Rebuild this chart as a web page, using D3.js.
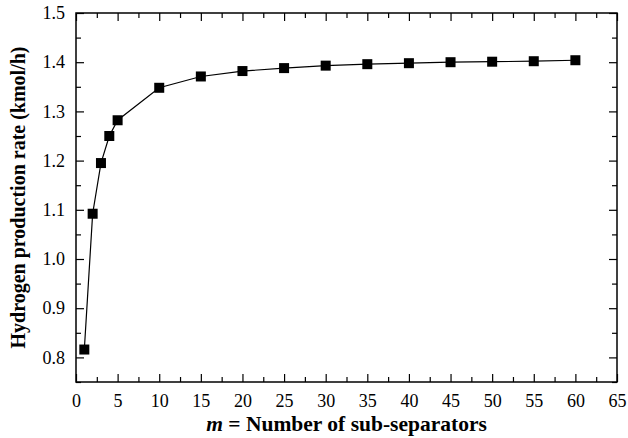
<!DOCTYPE html>
<html>
<head>
<meta charset="utf-8">
<script src="https://cdn.jsdelivr.net/npm/d3@7"></script>
<style>
  body { margin: 0; background: #fff; }
</style>
</head>
<body>
<svg id="svg" width="628" height="438"></svg>
<script>
// data
let mValues = [1, 2, 3, 4, 5, 10, 15, 20, 25, 30, 35, 40, 45, 50, 55, 60];
let h2Rates = [0.816, 1.092, 1.195, 1.250, 1.282, 1.348, 1.371, 1.382, 1.388, 1.393, 1.396, 1.398, 1.400, 1.401, 1.402, 1.404];
let xTicks = [0, 5, 10, 15, 20, 25, 30, 35, 40, 45, 50, 55, 60, 65];
let yTicks = [0.8, 0.9, 1.0, 1.1, 1.2, 1.3, 1.4, 1.5];

const serif = "'Liberation Serif', 'Times New Roman', serif";

let svg = d3.select("#svg");
const plotL = 76, plotR = 617, plotT = 13, plotB = 382;

let xScale = d3.scaleLinear().domain([0, 65]).range([plotL, plotR]);
let yScale = d3.scaleLinear().domain([0.75, 1.5]).range([plotB, plotT]);

let data = mValues.map((m, i) => ({ m: m, v: h2Rates[i] }));

// minor ticks halfway between majors
let xMinor = d3.range(2.5, 65, 5);
let yMinor = d3.range(0.75, 1.5, 0.1).map(d => +d.toFixed(2));

function styleAxis(g) {
    g.attr("font-family", serif).attr("font-size", 18);
    g.select(".domain").remove();
    g.selectAll("line").attr("stroke", "#000").attr("stroke-width", 1.2);
    g.selectAll("text").attr("fill", "#000");
}

// bottom axis with labels
svg.append("g")
    .attr("transform", "translate(0," + plotB + ")")
    .call(d3.axisBottom(xScale).tickValues(xTicks).tickFormat(d3.format("d")).tickSizeInner(-8).tickPadding(12))
    .call(styleAxis);
svg.append("g")
    .attr("transform", "translate(0," + plotB + ")")
    .call(d3.axisBottom(xScale).tickValues(xMinor).tickFormat("").tickSizeInner(-5))
    .call(styleAxis);

// top axis, ticks only
svg.append("g")
    .attr("transform", "translate(0," + plotT + ")")
    .call(d3.axisTop(xScale).tickValues(xTicks).tickFormat("").tickSizeInner(-8))
    .call(styleAxis);
svg.append("g")
    .attr("transform", "translate(0," + plotT + ")")
    .call(d3.axisTop(xScale).tickValues(xMinor).tickFormat("").tickSizeInner(-5))
    .call(styleAxis);

// left axis with labels
svg.append("g")
    .attr("transform", "translate(" + plotL + ",0)")
    .call(d3.axisLeft(yScale).tickValues(yTicks).tickFormat(d3.format(".1f")).tickSizeInner(-8).tickPadding(11))
    .call(styleAxis);
svg.append("g")
    .attr("transform", "translate(" + plotL + ",0)")
    .call(d3.axisLeft(yScale).tickValues(yMinor).tickFormat("").tickSizeInner(-5))
    .call(styleAxis);

// right axis, ticks only
svg.append("g")
    .attr("transform", "translate(" + plotR + ",0)")
    .call(d3.axisRight(yScale).tickValues(yTicks).tickFormat("").tickSizeInner(-8))
    .call(styleAxis);
svg.append("g")
    .attr("transform", "translate(" + plotR + ",0)")
    .call(d3.axisRight(yScale).tickValues(yMinor).tickFormat("").tickSizeInner(-5))
    .call(styleAxis);

// frame
svg.append("rect")
    .attr("x", plotL).attr("y", plotT)
    .attr("width", plotR - plotL).attr("height", plotB - plotT)
    .attr("fill", "none").attr("stroke", "#000").attr("stroke-width", 1.5);

// line
let line = d3.line().x(d => xScale(d.m)).y(d => yScale(d.v));
svg.append("path")
    .datum(data)
    .attr("d", line)
    .attr("fill", "none")
    .attr("stroke", "#000")
    .attr("stroke-width", 1.2);

// square markers
const ms = 10;
svg.selectAll(".pt")
    .data(data)
    .enter().append("rect")
    .attr("class", "pt")
    .attr("x", d => xScale(d.m) - ms / 2)
    .attr("y", d => yScale(d.v) - ms / 2)
    .attr("width", ms)
    .attr("height", ms)
    .attr("fill", "#000");

// x axis title
let xt = svg.append("text")
    .attr("x", (plotL + plotR) / 2)
    .attr("y", 431)
    .attr("text-anchor", "middle")
    .attr("font-family", serif)
    .attr("font-size", 21.5)
    .attr("font-weight", "bold");
xt.append("tspan").attr("font-style", "italic").text("m");
xt.append("tspan").text(" = Number of sub-separators");

// y axis title
svg.append("text")
    .attr("transform", "translate(25," + ((plotT + plotB) / 2) + ") rotate(-90)")
    .attr("text-anchor", "middle")
    .attr("font-family", serif)
    .attr("font-size", 20)
    .attr("font-weight", "bold")
    .text("Hydrogen production rate (kmol/h)");
</script>
</body>
</html>
